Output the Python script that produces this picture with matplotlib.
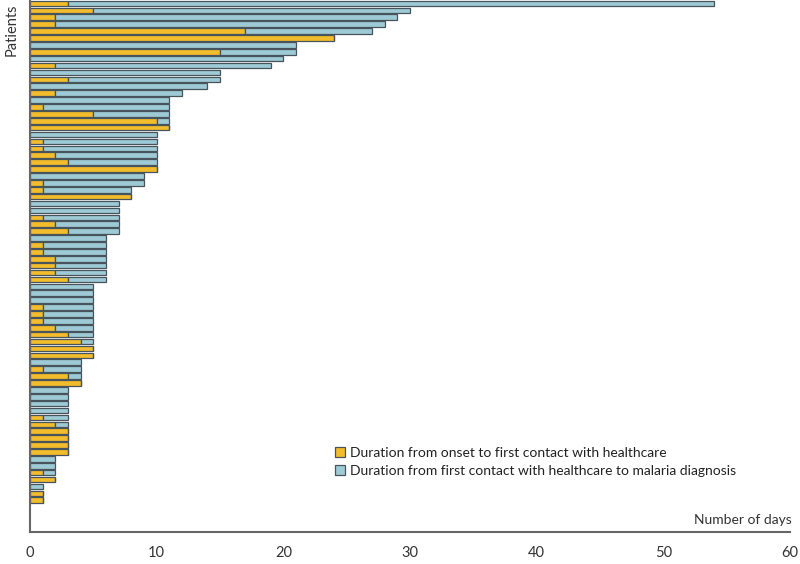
import matplotlib
matplotlib.use("Agg")
import matplotlib.pyplot as plt
import numpy as np

plt.rcParams['font.family'] = ['Lato', 'DejaVu Sans']

# Days from onset to first contact with healthcare (yellow)
onset_to_contact = [3, 5, 2, 2, 17, 24, 0, 15, 0, 2, 0, 3, 0, 2, 0, 1, 5, 10, 11,
                    0, 1, 1, 2, 3, 10, 0, 1, 1, 8, 0, 0, 1, 2, 3, 0, 1, 1, 2, 2, 2,
                    3, 0, 0, 0, 1, 1, 1, 2, 3, 4, 5, 5, 0, 1, 3, 4, 0, 0, 0, 0, 1,
                    2, 3, 3, 3, 3, 0, 0, 1, 2, 0, 1, 1]
# Days from first contact with healthcare to malaria diagnosis (blue)
contact_to_diagnosis = [51, 25, 27, 26, 10, 0, 21, 6, 20, 17, 15, 12, 14, 10, 11, 10, 6, 1, 0,
                        10, 9, 9, 8, 7, 0, 9, 8, 7, 0, 7, 7, 6, 5, 4, 6, 5, 5, 4, 4, 4,
                        3, 5, 5, 5, 4, 4, 4, 3, 2, 1, 0, 0, 4, 3, 1, 0, 3, 3, 3, 3, 2,
                        1, 0, 0, 0, 0, 2, 2, 1, 0, 1, 0, 0]
x_ticks = [0, 10, 20, 30, 40, 50, 60]
legend_labels = ["Duration from onset to first contact with healthcare",
                 "Duration from first contact with healthcare to malaria diagnosis"]

yellow = '#F2BC2B'
blue = '#9DCAD5'
edge = '#48545C'

fig = plt.figure(figsize=(8, 5.64), dpi=100)
ax = fig.add_axes([30/800, 32/564, 760/800, 532/564])

n = len(onset_to_contact)
pos = np.arange(n)
a = np.array(onset_to_contact)
b = np.array(contact_to_diagnosis)
h1 = ax.barh(pos, a, height=0.82, color=yellow, edgecolor=edge, linewidth=0.9)
h2 = ax.barh(pos, b, left=a, height=0.82, color=blue, edgecolor=edge, linewidth=0.9)

ax.set_xlim(0, 60)
ax.set_ylim(76.6, -0.5)
ax.set_xticks(x_ticks)
ax.set_xticklabels([str(t) for t in x_ticks], fontsize=10.5, color='#333333')
ax.tick_params(axis='x', length=0, pad=10)
ax.set_yticks([])
for s in ['top', 'right']:
    ax.spines[s].set_visible(False)
for s in ['left', 'bottom']:
    ax.spines[s].set_color('#666666')
    ax.spines[s].set_linewidth(1.5)

fig.text(12/800, 1 - 4/564, "Patients", rotation=90, ha='center', va='top',
         fontsize=10.5, color='#333333')
fig.text(792/800, 1 - 520/564, "Number of days", ha='right', va='center',
         fontsize=10, color='#333333')

leg = fig.legend([h1, h2], legend_labels, loc='lower left',
                 bbox_to_anchor=(335/800, 1 - 477/564), frameon=False,
                 fontsize=10, handlelength=0.7, handleheight=0.7,
                 handletextpad=0.4, labelspacing=0.45, borderaxespad=0,
                 borderpad=0)
for t in leg.get_texts():
    t.set_color('#222222')

fig.savefig('out.png', dpi=100)
